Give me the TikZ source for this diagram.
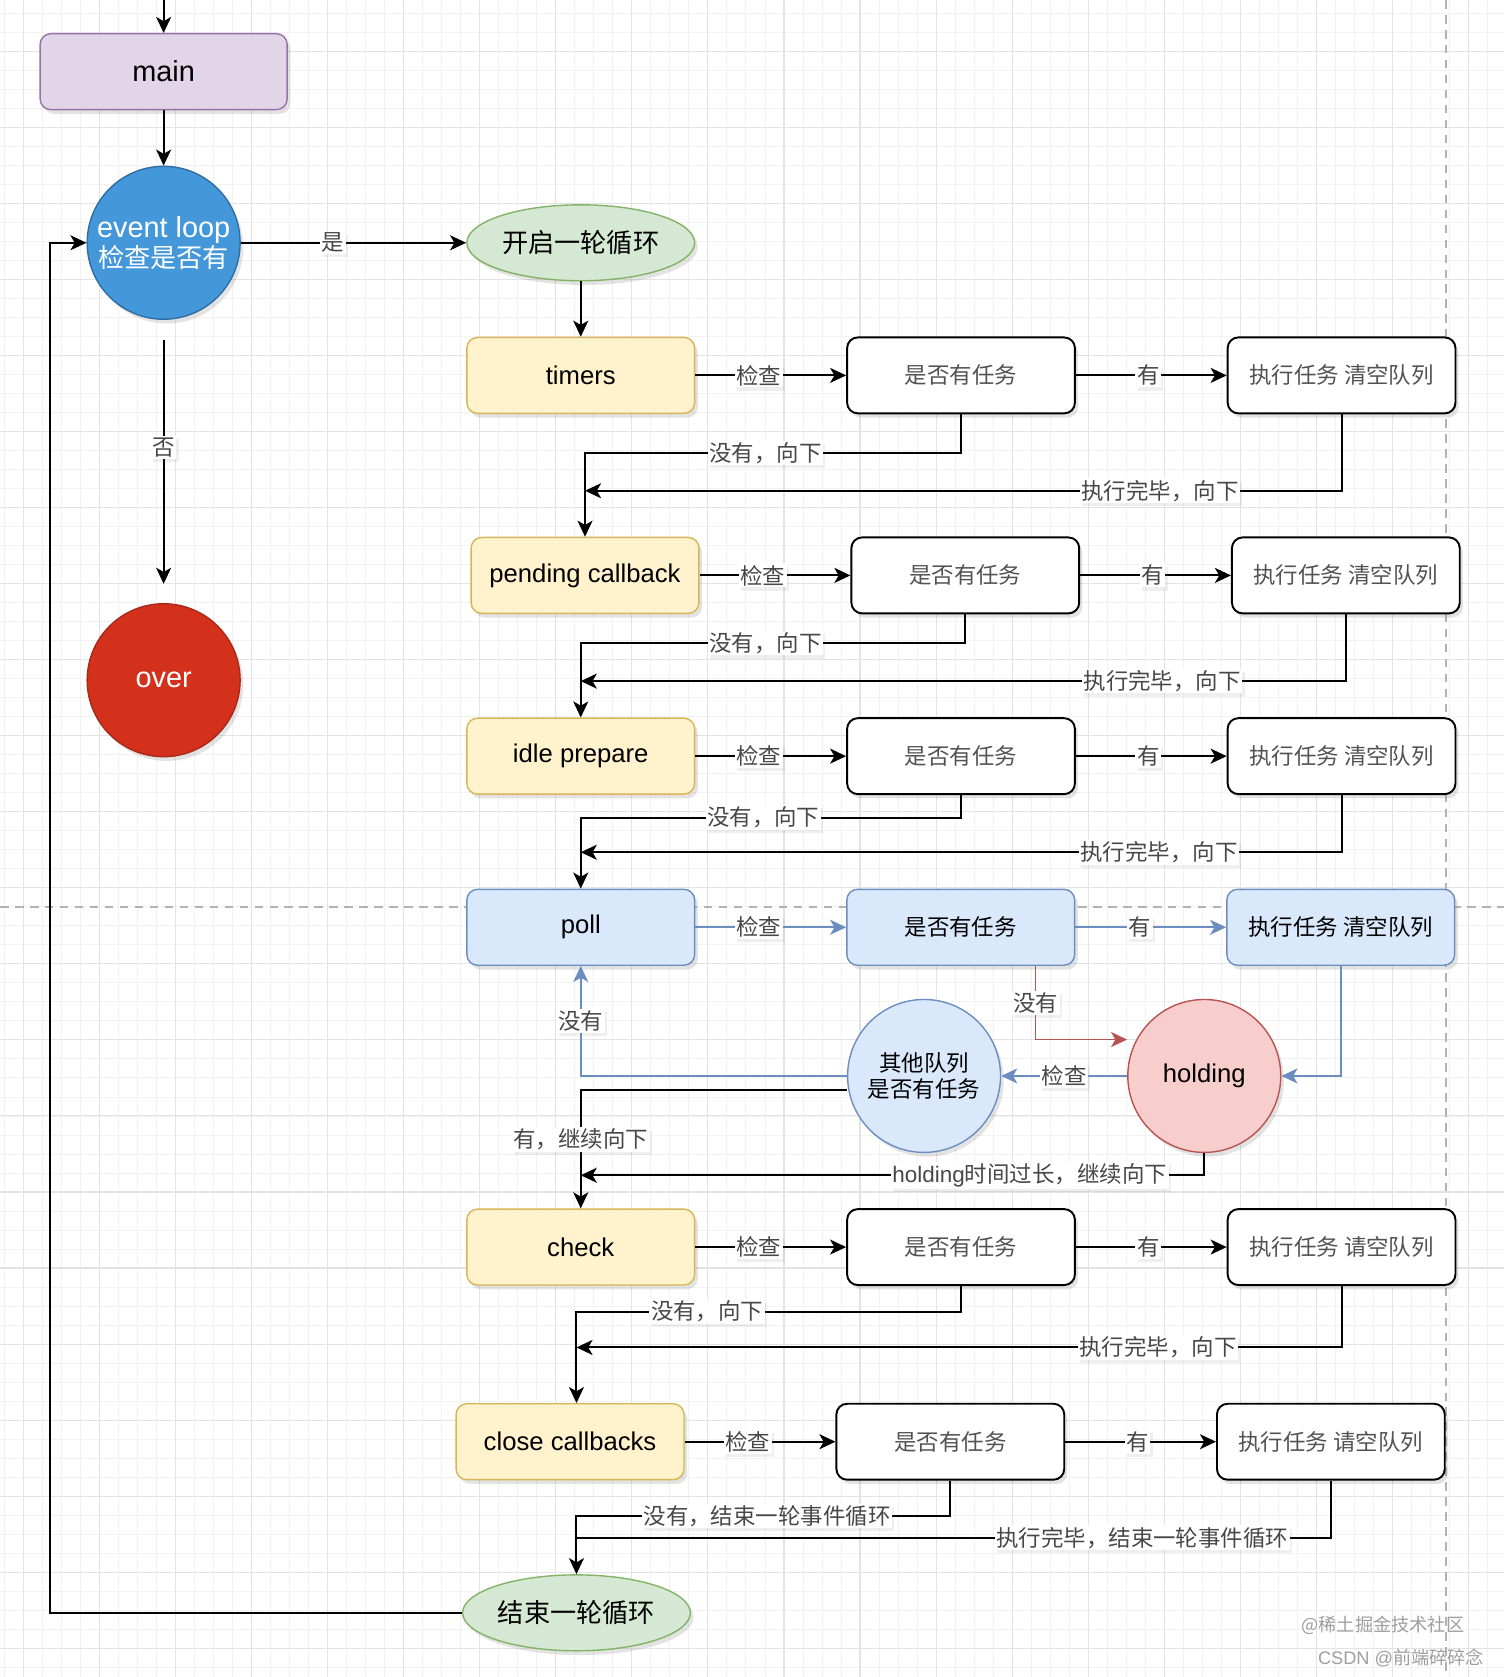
\documentclass[tikz,border=0pt]{standalone}
\usepackage{fontspec}
\setmainfont{Noto Sans CJK SC}
\newfontfamily\latin{Liberation Sans}
\usetikzlibrary{arrows.meta,positioning,shapes.geometric,shadows}
\definecolor{mainfill}{HTML}{E1D5E7}
\definecolor{mainline}{HTML}{9673A6}
\definecolor{loopfill}{HTML}{4498DA}
\definecolor{loopline}{HTML}{2E6DA4}
\definecolor{overfill}{HTML}{D4311C}
\definecolor{overline}{HTML}{A52A1A}
\definecolor{greenfill}{HTML}{D5E8D4}
\definecolor{greenline}{HTML}{82B366}
\definecolor{phasefill}{HTML}{FFF2CC}
\definecolor{phaseline}{HTML}{D6B656}
\definecolor{bluefill}{HTML}{DAE8FC}
\definecolor{blueline}{HTML}{6C8EBF}
\definecolor{redfill}{HTML}{F8CECC}
\definecolor{redline}{HTML}{B85450}
\tikzstyle{softshadow} = [drop shadow={opacity=0.22,shadow xshift=3pt,shadow yshift=-4pt}]
\tikzstyle{box} = [rectangle,rounded corners=10pt,minimum width=213pt,minimum height=71pt,inner sep=2pt,softshadow]
\tikzstyle{phase} = [box,draw=phaseline,line width=1.3pt,fill=phasefill,font=\latin\fontsize{24}{28}\selectfont]
\tikzstyle{taskbox} = [box,draw=black,line width=1.8pt,fill=white,text=black!68,font=\fontsize{21}{25}\selectfont]
\tikzstyle{pollbox} = [box,draw=blueline,line width=1.3pt,fill=bluefill,font=\fontsize{21}{25}\selectfont]
\tikzstyle{round} = [circle,minimum size=143pt,inner sep=0pt,align=center,softshadow]
\tikzstyle{oval} = [ellipse,minimum width=213pt,minimum height=71pt,inner sep=0pt,draw=greenline,line width=1.3pt,fill=greenfill,softshadow,font=\fontsize{24.5}{28}\selectfont]
\tikzstyle{link} = [draw,line width=1.9pt]
\tikzstyle{flow} = [link,->]
\tikzstyle{blueflow} = [link,->,draw=blueline,line width=1.6pt]
\tikzstyle{redflow} = [link,->,draw=redline,line width=1.6pt]
\tikzstyle{lbl} = [fill=white,text=black!72,inner sep=1.5pt,font=\fontsize{21}{25}\selectfont,drop shadow={opacity=0.12,shadow xshift=2pt,shadow yshift=-3pt}]
\tikzstyle{wmtext} = [text=black!38,inner sep=0pt,font=\fontsize{17}{20}\selectfont]
\tikzstyle{minorgrid} = [draw=black!5,line width=0.8pt]
\tikzstyle{majorgrid} = [draw=black!11,line width=1pt]
\tikzstyle{pagebreak} = [draw=black!30,line width=1.2pt,dash pattern=on 8pt off 6pt]

\begin{document}
\begin{tikzpicture}[x=1pt,y=-1pt,>={Stealth[length=15pt,width=14pt,inset=4pt]}]

  % paper, grid and page breaks
  \fill[white] (0,0) rectangle (1406,1568);
  \useasboundingbox (0,0) rectangle (1406,1568);
  \foreach \i in {0,...,78} \path[minorgrid] ({4.2+17.775*\i},0) -- ++(0,1568);
  \foreach \i in {0,...,87} \path[minorgrid] (0,{12.45+17.775*\i}) -- ++(1406,0);
  \foreach \i in {0,...,19} \path[majorgrid] ({22+71.1*\i},0) -- ++(0,1568);
  \foreach \i in {0,...,21} \path[majorgrid] (0,{48+71.1*\i}) -- ++(1406,0);
  \path[pagebreak] (0,848) -- (1406,848);
  \path[pagebreak] (1352,0) -- (1352,1568);

  % entry side
  \coordinate (entry) at (153,0);
  \coordinate (nobranch) at (153,318);
  \node[box,draw=mainline,line width=1.3pt,fill=mainfill,minimum width=231pt,
        font=\latin\fontsize{27}{30}\selectfont] (main) at (153,67) {main};
  \node[round,draw=loopline,line width=1.3pt,fill=loopfill,text=white,
        font=\fontsize{24.5}{28}\selectfont] (loop) at (153,227)
        {{\latin\fontsize{27}{28}\selectfont event loop}\\检查是否有};
  \node[round,draw=overline,line width=1.3pt,fill=overfill,text=white,
        font=\latin\fontsize{27}{30}\selectfont] (over) at (153,636) {over};
  \node[oval] (start) at (543,227) {开启一轮循环};
  \node[oval] (finish) at (539,1508) {结束一轮循环};

  % the phases, each with its check and its run
  \foreach \nm/\x/\y/\txt/\clr in {timers/543/351/timers/清, pend/547/538/pending callback/清,
      idle/543/707/idle prepare/清, check/543/1166/check/请, close/533/1348/close callbacks/请}{
    \node[phase] (\nm) at (\x,\y) {\txt};
    \node[taskbox, right=141pt of \nm] (\nm q) {是否有任务};
    \node[taskbox, right=141pt of \nm q] (\nm x) {执行任务 \clr 空队列};
  }

  % poll and its waiting part
  \node[pollbox,font=\latin\fontsize{24}{28}\selectfont] (poll) at (543,867) {poll};
  \node[pollbox, right=141pt of poll] (pollq) {是否有任务};
  \node[pollbox, right=141pt of pollq] (pollx) {执行任务 清空队列};
  \node[round,draw=blueline,line width=1.3pt,fill=bluefill,
        font=\fontsize{21}{25}\selectfont] (other) at (864,1006) {其他队列\\是否有任务};
  \node[round,draw=redline,line width=1.3pt,fill=redfill,
        font=\latin\fontsize{24}{28}\selectfont] (hold) at (1126,1006) {holding};

  \path[flow] (entry) -- (main);
  \path[flow] (main) -- (loop);
  \path[flow] (loop) -- node[lbl,pos=0.41]{是} (start);
  \path[flow] (start) -- (timers);
  \path[flow] (nobranch) -- node[lbl,pos=0.44]{否} ([yshift=18pt]over.north);

  \foreach \nm in {timers,pend,idle,check,close}{
    \path[flow] (\nm) -- node[lbl,pos=0.42]{检查} (\nm q);
    \path[flow] (\nm q) -- node[lbl,pos=0.48]{有} (\nm x);
  }

  %down from each phase
  \path[flow] (timersq.south) -- ++(0,36) -| node[lbl,pos=0.26]{没有，向下} (pend.north);
  \path[flow] (timersx.south) |- node[lbl,pos=0.62]{执行完毕，向下} ([yshift=43pt]pend.north);
  \path[flow] (pendq.south) -- ++(0,27) -| node[lbl,pos=0.26]{没有，向下} (idle.north);
  \path[flow] (pendx.south) |- node[lbl,pos=0.62]{执行完毕，向下} ([yshift=34pt]idle.north);
  \path[flow] (idleq.south) -- ++(0,21) -| node[lbl,pos=0.26]{没有，向下} (poll.north);
  \path[flow] (idlex.south) |- node[lbl,pos=0.62]{执行完毕，向下} ([yshift=34pt]poll.north);

  % poll
  \path[blueflow] (poll) -- node[lbl,pos=0.42]{检查} (pollq);
  \path[blueflow] (pollq) -- node[lbl,pos=0.43]{有} (pollx);
  \path[redflow] ([xshift=70pt]pollq.south) |- node[lbl,pos=0.25]{没有} ([yshift=34pt]hold.west);
  \path[blueflow] (pollx.south) |- (hold.east);
  \path[blueflow] (hold) -- node[lbl]{检查} (other);
  \path[blueflow] (other.west) -| node[lbl,pos=0.75]{没有} (poll.south);
  \path[flow] ([yshift=-13pt]other.west) -| node[lbl,pos=0.71]{有，继续向下} (check.north);
  \path[flow] (hold.south) |- node[lbl,pos=0.64]{{\latin holding}时间过长，继续向下} ([yshift=31pt]check.north);

  \path[flow] (checkq.south) -- ++(0,24) -| node[lbl,pos=0.33]{没有，向下} ([xshift=6pt]close.north);
  \path[flow] (checkx.south) |- node[lbl,pos=0.62]{执行完毕，向下} ([xshift=6pt,yshift=52pt]close.north);
  \path[flow] (closeq.south) -- ++(0,33) -| node[lbl,pos=0.245]{没有，结束一轮事件循环} (finish.north);
  \path[link] (closex.south) |- node[lbl,pos=0.625]{执行完毕，结束一轮事件循环} ([yshift=34pt]finish.north);

  % back to the start
  \path[flow] (finish.west) -- ++(-385,0) |- (loop.west);

  \node[wmtext] (wm1) at (1293,1520) {@稀土掘金技术社区};
  \node[wmtext] (wm2) at (1310,1550) {{\latin CSDN @}前端碎碎念};
\end{tikzpicture}
\end{document}
